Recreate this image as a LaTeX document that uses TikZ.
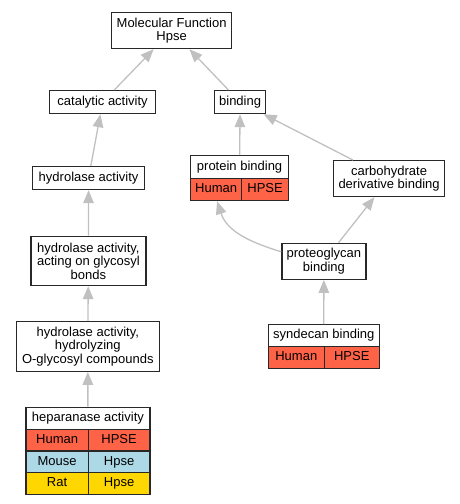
\documentclass[tikz,border=0pt]{standalone}
\usepackage{fontspec}
\setmainfont{Liberation Sans}
\usetikzlibrary{arrows.meta}
\definecolor{hred}{HTML}{FF6347}
\definecolor{hblue}{HTML}{ADD8E6}
\definecolor{hgold}{HTML}{FFD700}
\definecolor{edgegray}{RGB}{192,192,192}
\definecolor{bordergray}{RGB}{40,40,40}
\begin{document}
\begin{tikzpicture}[x=1pt,y=-1pt,
  box/.style={draw=bordergray, line width=1.2pt, fill=white, inner sep=0pt, align=center,
    font=\fontsize{13}{13.4}\selectfont, anchor=north west},
  oneline/.style={box, text height=9.4pt, text depth=2.8pt},
  edge/.style={draw=edgegray, line width=1.3pt, -{Triangle[length=13pt,width=10.5pt]}}]
\useasboundingbox (0,0) rectangle (459,504);
% nodes
\node[box, minimum width=120pt, minimum height=36pt] (mf) at (111,12) {Molecular Function\\Hpse};
\node[oneline, minimum width=106pt, minimum height=23pt] (cat) at (49,90) {catalytic activity};
\node[oneline, minimum width=51pt, minimum height=23pt] (bind) at (214,90) {binding};
\node[oneline, minimum width=112pt, minimum height=23pt] (hyd) at (32,166) {hydrolase activity};
\node[oneline, minimum width=98pt, minimum height=23pt] (pb) at (190,155) {protein binding};
\node[oneline, fill=hred, minimum width=51pt, minimum height=22pt] (pbh) at (190,178) {Human};
\node[oneline, fill=hred, minimum width=47pt, minimum height=22pt] (pbg) at (241,178) {HPSE};
\node[box, minimum width=111pt, minimum height=36pt] (carb) at (333,160) {carbohydrate\\derivative binding};
\node[box, minimum width=115pt, minimum height=49.3pt] (hac) at (30.3,235.7) {hydrolase activity,\\acting on glycosyl\\bonds};
\node[box, minimum width=84pt, minimum height=36pt] (pg) at (281.3,242.7) {proteoglycan\\binding};
\node[box, minimum width=143pt, minimum height=49.7pt] (hyz) at (15.7,321) {hydrolase activity,\\hydrolyzing\\O-glycosyl compounds};
\node[oneline, minimum width=111pt, minimum height=22pt] (syn) at (267.7,324) {syndecan binding};
\node[oneline, fill=hred, minimum width=56pt, minimum height=22pt] (synh) at (267.7,346) {Human};
\node[oneline, fill=hred, minimum width=55pt, minimum height=22pt] (syng) at (323.7,346) {HPSE};
\node[oneline, minimum width=124pt, minimum height=22pt] (hep) at (25.3,406.7) {heparanase activity};
\node[oneline, fill=hred, minimum width=62.4pt, minimum height=21.6pt] (heph) at (25.3,428.7) {Human};
\node[oneline, fill=hred, minimum width=61.6pt, minimum height=21.6pt] (hephg) at (87.7,428.7) {HPSE};
\node[oneline, fill=hblue, minimum width=62.4pt, minimum height=21.6pt] (hepm) at (25.3,450.3) {Mouse};
\node[oneline, fill=hblue, minimum width=61.6pt, minimum height=21.6pt] (hepmg) at (87.7,450.3) {Hpse};
\node[oneline, fill=hgold, minimum width=62.4pt, minimum height=21.6pt] (hepr) at (25.3,471.9) {Rat};
\node[oneline, fill=hgold, minimum width=61.6pt, minimum height=21.6pt] (heprg) at (87.7,471.9) {Hpse};
% edges
\draw[edge] (cat) -- (mf);
\draw[edge] (bind) -- (mf);
\draw[edge] (hyd) -- (cat);
\draw[edge] (pb) -- (bind);
\draw[edge] (carb) -- (bind);
\draw[edge] (hac) -- (hyd);
\draw[edge] ([yshift=9.5pt]pg.west) to[out=163,in=-72] ([xshift=1pt]pbh.south);
\draw[edge] (pg) -- (carb);
\draw[edge] (hyz) -- (hac);
\draw[edge] (syn) -- (pg);
\draw[edge] (hep) -- (hyz);
\end{tikzpicture}
\end{document}
